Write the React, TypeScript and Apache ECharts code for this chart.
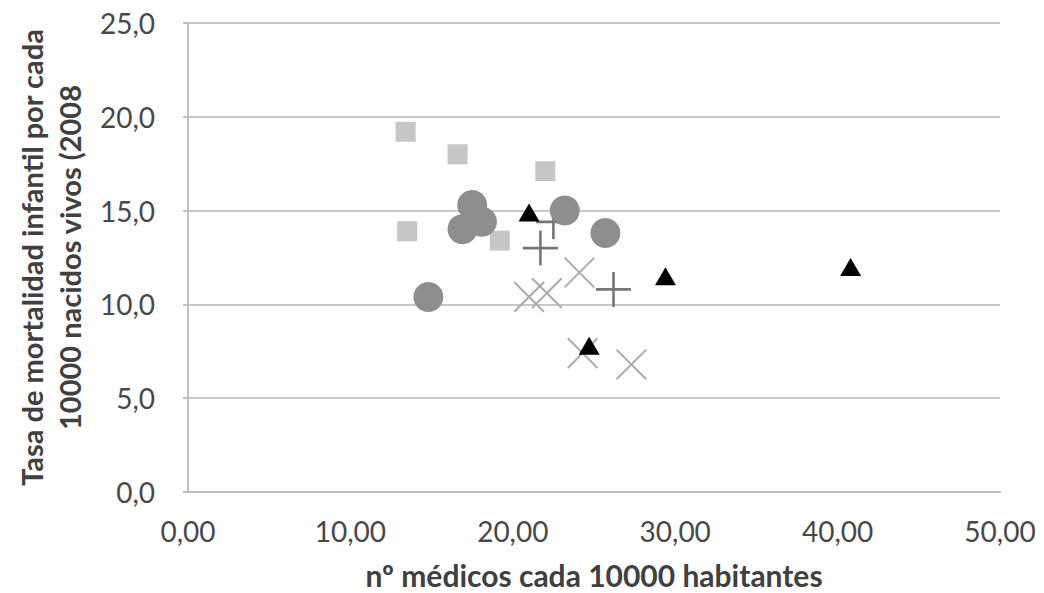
import React, { useEffect, useRef } from "react";
import * as echarts from "echarts";

const xTicks = ["0,00", "10,00", "20,00", "30,00", "40,00", "50,00"];
const yTicks = ["0,0", "5,0", "10,0", "15,0", "20,0", "25,0"];

const squares: [number, number][] = [
  [13.4, 19.2],
  [16.6, 18.0],
  [22.0, 17.1],
  [13.5, 13.9],
  [19.2, 13.4],
];
const circles: [number, number][] = [
  [17.5, 15.3],
  [16.9, 14.0],
  [18.1, 14.4],
  [23.2, 15.0],
  [25.7, 13.8],
  [14.8, 10.4],
];
const triangles: [number, number][] = [
  [21.0, 14.9],
  [29.4, 11.5],
  [24.7, 7.8],
  [40.8, 12.0],
];
const pluses: [number, number][] = [
  [21.7, 13.0],
  [22.5, 14.4],
  [26.2, 10.8],
];
const crosses: [number, number][] = [
  [21.0, 10.4],
  [22.1, 10.6],
  [24.1, 11.7],
  [24.3, 7.4],
  [27.3, 6.8],
];

const xTitle = "nº médicos cada 10000 habitantes";
const yTitle = "Tasa de mortalidad infantil por cada\n10000 nacidos vivos (2008";

const plusPath =
  "path://M-1.3,-17.5 L1.3,-17.5 L1.3,17.5 L-1.3,17.5 Z M-17.5,-1.3 L17.5,-1.3 L17.5,1.3 L-17.5,1.3 Z";
const crossPath =
  "path://M-1,-21 L1,-21 L1,21 L-1,21 Z M-21,-1 L21,-1 L21,1 L-21,1 Z";

export default function App() {
  const ref = useRef<HTMLDivElement>(null);
  useEffect(() => {
    document.body.style.margin = "0";
    const chart = echarts.init(ref.current!, null, { renderer: "svg" });
    const font = "Lato, 'Open Sans', sans-serif";
    chart.setOption({
      animation: false,
      backgroundColor: "#ffffff",
      grid: { left: 188, right: 44, top: 23, bottom: 101, containLabel: false, outerBoundsMode: "none" },
      xAxis: {
        type: "value",
        min: 0,
        max: 50,
        interval: 10,
        name: xTitle,
        nameLocation: "middle",
        nameGap: 68,
        nameTextStyle: { fontFamily: font, fontSize: 30, fontWeight: "bold", color: "#404040" },
        axisLine: { show: true, lineStyle: { color: "#bfbfbf", width: 2 } },
        axisTick: { show: false },
        splitLine: { show: false },
        axisLabel: {
          margin: 25,
          fontFamily: font,
          fontSize: 28,
          color: "#484848",
          formatter: (v: number) => xTicks[Math.round(v / 10)] ?? "",
        },
      },
      yAxis: {
        type: "value",
        min: 0,
        max: 25,
        interval: 5,
        name: yTitle,
        nameLocation: "middle",
        nameGap: 100,
        nameRotate: 90,
        nameTextStyle: { fontFamily: font, fontSize: 29, fontWeight: "bold", color: "#404040", lineHeight: 38 },
        axisLine: { show: true, lineStyle: { color: "#bfbfbf", width: 2 } },
        axisTick: { show: true, length: 5, lineStyle: { color: "#bfbfbf", width: 2 } },
        splitLine: { show: true, lineStyle: { color: "#c8c8c8", width: 2 } },
        axisLabel: {
          margin: 33,
          fontFamily: font,
          fontSize: 28,
          color: "#484848",
          formatter: (v: number) => yTicks[Math.round(v / 5)] ?? "",
        },
      },
      series: [
        {
          type: "scatter",
          data: squares,
          symbol: "rect",
          symbolSize: 20,
          itemStyle: { color: "#c6c6c6", opacity: 1 },
        },
        {
          type: "scatter",
          data: pluses,
          symbol: plusPath,
          symbolSize: 35,
          itemStyle: { color: "#767676", opacity: 1 },
        },
        {
          type: "scatter",
          data: circles,
          symbol: "circle",
          symbolSize: 30,
          itemStyle: { color: "#8e8e8e", opacity: 1 },
        },
        {
          type: "scatter",
          data: crosses,
          symbol: crossPath,
          symbolSize: 42,
          symbolRotate: 45,
          itemStyle: { color: "#ababab", opacity: 1 },
        },
        {
          type: "scatter",
          data: triangles,
          symbol: "triangle",
          symbolSize: [21, 18],
          itemStyle: { color: "#000000", opacity: 1 },
        },
      ],
    });
    return () => chart.dispose();
  }, []);
  return <div ref={ref} style={{ width: 1044, height: 593 }} />;
}
